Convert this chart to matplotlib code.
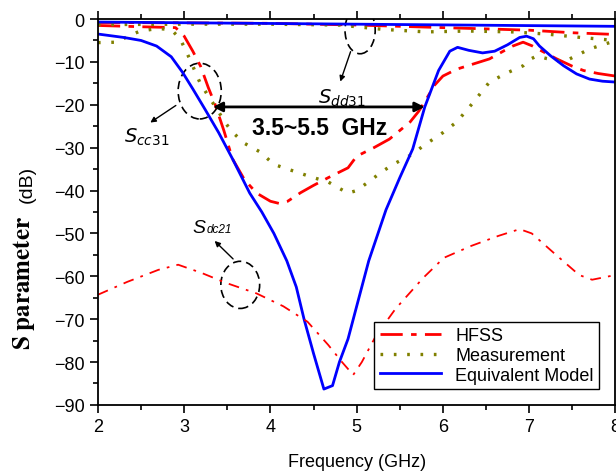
import matplotlib.pyplot as plt
from matplotlib.patches import Ellipse

plt.rcParams['font.family'] = ['Liberation Sans', 'DejaVu Sans']
plt.rcParams['mathtext.fontset'] = 'stix'

# Equivalent model
eq_cc_x = [2.0, 2.3, 2.5, 2.68, 2.85, 2.98, 3.1, 3.24, 3.4, 3.56, 3.76, 3.9, 4.04, 4.19, 4.3, 4.39, 4.5,
           4.62, 4.72, 4.8, 4.9, 5.0, 5.14, 5.34, 5.5, 5.65, 5.79, 5.95, 6.08, 6.17, 6.3, 6.46, 6.6,
           6.75, 6.89, 6.97, 7.05, 7.12, 7.25, 7.4, 7.55, 7.7, 7.85, 8.0]
eq_cc_y = [-3.5, -4.3, -5.0, -6.3, -8.8, -12.4, -16.3, -21, -26.5, -32.6, -40.6, -45, -50, -56.4, -62.5,
           -70, -78, -86.3, -85.5, -80, -74.6, -67, -56.4, -44.5, -37, -30.3, -20.5, -12, -7.5, -6.6,
           -7.3, -7.9, -7.5, -6, -4.3, -4.0, -4.6, -6.3, -8.6, -10.9, -12.8, -14, -14.5, -14.7]
eq_dd_x = [2.0, 5.0, 8.0]
eq_dd_y = [-0.7, -1.2, -1.7]

# HFSS
hf_cc_x = [2.0, 2.5, 2.9, 3.0, 3.1, 3.19, 3.28, 3.36, 3.46, 3.56, 3.7, 3.84, 4.0, 4.1, 4.2, 4.35, 4.5,
           4.67, 4.9, 5.0, 5.2, 5.38, 5.5, 5.62, 5.72, 5.81, 5.9, 6.0, 6.16, 6.35, 6.54, 6.7, 6.81,
           6.93, 7.04, 7.15, 7.32, 7.5, 7.63, 7.8, 8.0]
hf_cc_y = [-1.5, -1.8, -2.0, -4, -7.5, -11, -16, -20, -26, -32.6, -37.5, -40.6, -42.5, -43, -42.5,
           -40.5, -38.8, -37, -34.7, -32, -30, -28, -26, -24, -21.5, -18.6, -15.5, -13.3, -11.7,
           -10.5, -9.3, -7.5, -6.3, -5.4, -6.3, -7.5, -9.3, -11, -12, -12.7, -13.3]
hf_dd_x = [2.0, 3.0, 4.0, 5.0, 6.0, 7.0, 7.5, 8.0]
hf_dd_y = [-0.8, -0.9, -1.0, -1.4, -2.0, -2.6, -3.2, -3.6]
hf_dc_x = [2.0, 2.34, 2.7, 2.93, 3.2, 3.48, 3.84, 4.15, 4.43, 4.67, 4.83, 4.96, 5.06, 5.22, 5.45,
           5.77, 6.01, 6.33, 6.64, 6.89, 7.03, 7.3, 7.58, 7.73, 8.0]
hf_dc_y = [-64.3, -61.3, -58.5, -57.3, -59.2, -61.5, -64, -67, -70.6, -76, -80, -83, -80, -74,
           -67.6, -60.4, -55.7, -52.9, -50.6, -49, -50, -54.8, -59.7, -60.8, -59.7]

# Measurement
ms_cc_x = [2.0, 2.22, 2.35, 2.49, 2.7, 2.85, 2.95, 3.03, 3.1, 3.18, 3.28, 3.38, 3.47, 3.56, 3.7, 3.88,
           4.04, 4.2, 4.35, 4.5, 4.67, 4.8, 4.9, 5.0, 5.17, 5.3, 5.45, 5.65, 5.77, 6.0, 6.16, 6.35,
           6.54, 6.75, 6.93, 7.0, 7.09, 7.2, 7.4, 7.55, 7.7, 7.85, 8.0]
ms_cc_y = [-5.5, -5.4, -4, -2.8, -2.2, -2.5, -4.5, -7.8, -11, -14.7, -18, -21, -24, -26.4, -29, -31,
           -33.9, -35, -36, -37, -38, -39.5, -40.6, -40, -37.5, -35.5, -33.6, -31.5, -29.6, -26.5,
           -24, -19.5, -14.7, -12.5, -10.9, -9.5, -8.6, -9.2, -10, -8.5, -7, -6, -5.1]
ms_dd_x = [2.0, 3.0, 4.0, 4.8, 5.3, 5.8, 6.3, 6.8, 7.2, 7.6, 8.0]
ms_dd_y = [-1.3, -1.2, -1.2, -1.4, -2.4, -3.0, -2.8, -3.0, -3.5, -4.3, -5.0]

red = '#ff0000'
olive = '#808000'
blue = '#0000ff'
hf_ls = (0, (8, 3, 2, 3))
ms_ls = (0, (0.8, 3.2))

fig = plt.figure(figsize=(6.16, 4.77), dpi=100)
ax = fig.add_axes([0.159, 0.149, 0.840, 0.809])

ax.plot(hf_cc_x, hf_cc_y, color=red, lw=2, ls=hf_ls, label='HFSS')
ax.plot(ms_cc_x, ms_cc_y, color=olive, lw=2.4, ls=ms_ls, label='Measurement')
ax.plot(eq_cc_x, eq_cc_y, color=blue, lw=2, label='Equivalent Model')
ax.plot(hf_dd_x, hf_dd_y, color=red, lw=2, ls=hf_ls)
ax.plot(ms_dd_x, ms_dd_y, color=olive, lw=2.4, ls=ms_ls)
ax.plot(eq_dd_x, eq_dd_y, color=blue, lw=2)
ax.plot(hf_dc_x, hf_dc_y, color=red, lw=1.3, ls=(0, (6, 4, 1.5, 4)))

ax.set_xlim(2, 8)
ax.set_ylim(-90, 0)
ax.set_xticks(range(2, 9))
ax.set_xticks([x + 0.5 for x in range(2, 8)], minor=True)
ax.set_yticks(range(-90, 1, 10))
ax.set_yticks(range(-85, 0, 10), minor=True)
ax.tick_params(which='both', direction='out', top=True, labelsize=13, width=1.2)
ax.tick_params(which='major', length=6)
ax.tick_params(which='minor', length=3.5)
for s in ax.spines.values():
    s.set_linewidth(1.3)

ax.set_xlabel('Frequency (GHz)', fontsize=13, labelpad=13)
# y label: bold serif part plus smaller sans unit
ax.text(-0.143, 0.319, r'$\mathbf{S\ parameter}$', fontsize=18, rotation=90,
        ha='center', va='center', transform=ax.transAxes)
ax.text(-0.137, 0.573, '(dB)', fontsize=14, rotation=90,
        ha='center', va='center', transform=ax.transAxes)

# bandwidth arrow
ax.annotate('', xy=(3.3, -20.5), xytext=(5.82, -20.5),
            arrowprops=dict(arrowstyle='<|-|>', color='black', lw=2, mutation_scale=14))
ax.text(4.57, -25.4, '3.5~5.5  GHz', fontsize=16.5, fontweight='bold', ha='center', va='center')

# dashed circles and labels
for cx, cy, w, h in [(3.18, -16.8, 0.5, 13), (5.04, -2.6, 0.35, 11), (3.65, -62, 0.45, 11)]:
    ax.add_patch(Ellipse((cx, cy), w, h, fill=False, ls=(0, (5, 3)), lw=1.2, color='black'))

ax.annotate('', xy=(2.58, -24.5), xytext=(2.93, -19.8),
            arrowprops=dict(arrowstyle='-|>', color='black', lw=1, mutation_scale=8))
ax.annotate('', xy=(4.8, -15.2), xytext=(4.94, -7),
            arrowprops=dict(arrowstyle='-|>', color='black', lw=1, mutation_scale=8))
ax.annotate('', xy=(3.33, -51.3), xytext=(3.59, -56.4),
            arrowprops=dict(arrowstyle='-|>', color='black', lw=1, mutation_scale=8))
ax.text(2.3, -28.5, r'$S_{cc31}$', fontsize=14, math_fontfamily='dejavusans')
ax.text(4.55, -19.5, r'$S_{dd31}$', fontsize=14, math_fontfamily='dejavusans')
ax.text(3.1, -49.6, 'S', fontsize=14, fontstyle='italic')
ax.text(3.26, -49.6, 'dc21', fontsize=8.5, fontstyle='italic')

leg = ax.legend(loc='lower right', bbox_to_anchor=(0.969, 0.041), borderaxespad=0,
                fontsize=13, fancybox=False, edgecolor='black', framealpha=1,
                handlelength=3.4, labelspacing=0.15, borderpad=0.3)
leg.get_frame().set_linewidth(1)

fig.savefig('out.png', dpi=100)
